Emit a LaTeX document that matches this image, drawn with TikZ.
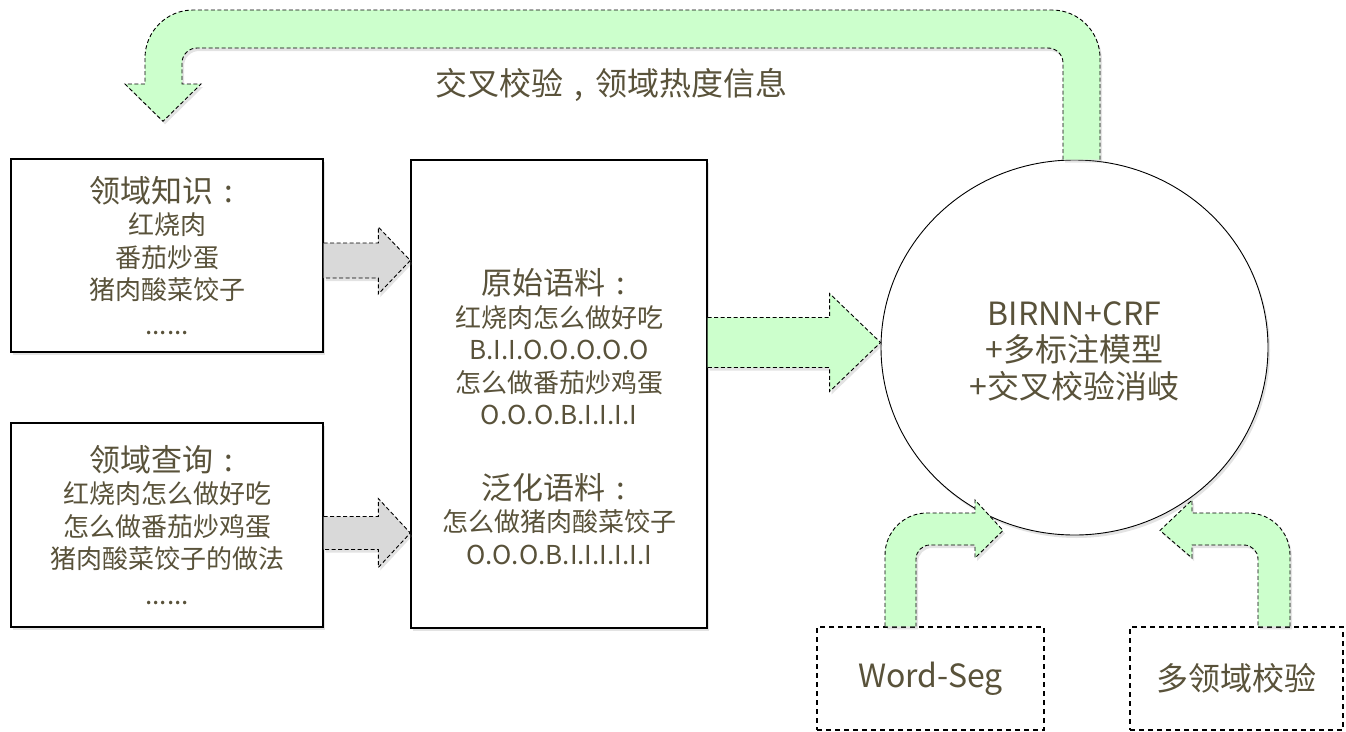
\documentclass[tikz,border=0pt]{standalone}
\usepackage{fontspec}
\setmainfont{Noto Sans CJK SC}
\usetikzlibrary{calc,shapes.geometric,shadows}
\definecolor{txtcol}{RGB}{89,82,58}
\definecolor{fatgreen}{RGB}{204,255,204}
\definecolor{fatgray}{RGB}{217,217,217}
\newcommand{\headfont}{\fontsize{31}{33}\selectfont}
\newcommand{\bigfont}{\fontsize{32}{36.5}\selectfont}
\newcommand{\wcolon}{\makebox[1em]{:}}
% straight block arrow: style, start, tip, body half, head half, head length
\newcommand{\fatarrow}[6]{%
  \draw[#1] let \p1=(#2), \p2=(#3) in
    (\x1,\y2+#4) -- (\x2-#6,\y2+#4) -- (\x2-#6,\y2+#5) -- (\x2,\y2)
    -- (\x2-#6,\y2-#5) -- (\x2-#6,\y2-#4) -- (\x1,\y2-#4);}
\tikzset{
  softshadow/.style={drop shadow={opacity=0.22,shadow xshift=2pt,shadow yshift=-3pt}},
  panel/.style={draw=black, line width=1.4pt, fill=white, softshadow},
  toolbox/.style={draw=black, line width=1.3pt, dash pattern=on 5pt off 4pt, fill=white},
  fat/.style={draw=black, line width=0.9pt, dash pattern=on 4pt off 2.5pt, fill=fatgreen, softshadow},
  fatgrey/.style={fat, fill=fatgray},
  txt/.style={text=txtcol, align=center, font=\fontsize{26}{32.5}\selectfont}
}
\begin{document}
\begin{tikzpicture}[x=1pt, y=-1pt]
  \useasboundingbox (0,0) rectangle (1346,731);
  % input boxes
  \node[panel, txt, minimum width=312pt, minimum height=193pt] (know) at (167,255.5)
    {{\headfont 领域知识\wcolon}\\红烧肉\\番茄炒蛋\\猪肉酸菜饺子\\[2pt]......};
  \node[panel, txt, minimum width=312pt, minimum height=204pt] (query) at (167,525)
    {{\headfont 领域查询\wcolon}\\红烧肉怎么做好吃\\怎么做番茄炒鸡蛋\\猪肉酸菜饺子的做法\\[3pt]......};
  % corpus
  \node[panel, minimum width=296pt, minimum height=468pt] (corpus) at (559,394) {};
  \node[txt] (rawtxt) at (559,347)
    {{\headfont 原始语料\wcolon}\\红烧肉怎么做好吃\\B.I.I.O.O.O.O.O\\怎么做番茄炒鸡蛋\\O.O.O.B.I.I.I.I};
  \node[txt] (gentxt) at (559,519)
    {{\headfont 泛化语料\wcolon}\\怎么做猪肉酸菜饺子\\O.O.O.B.I.I.I.I.I.I};
  % model
  \node[ellipse, draw=black, line width=0.9pt, fill=white, softshadow, minimum width=387pt,
    minimum height=375pt, inner sep=0pt, txt, font=\bigfont] (model) at (1074.5,347.5) {};
  \node[txt, font=\bigfont] (modeltxt) at (1074.5,351) {BIRNN+CRF\\+多标注模型\\+交叉校验消岐};
  % helpers
  \node[toolbox, txt, font=\bigfont, minimum width=227pt, minimum height=103pt] (seg) at (930.5,678.5) {Word-Seg};
  \node[toolbox, txt, font=\bigfont, minimum width=213pt, minimum height=103pt] (multi) at (1236.5,678.5) {多领域校验};
  \node[txt, font=\bigfont] (fbtext) at (611,85) {交叉校验\makebox[1em]{,}领域热度信息};
  % arrows into corpus and model
  \fatarrow{fatgrey}{know.east}{$(know.east -| corpus.west)+(0,5)$}{17.5pt}{33.5pt}{32pt}
  \fatarrow{fatgrey}{query.east}{$(query.east -| corpus.west)+(0,8)$}{16.5pt}{34.5pt}{32pt}
  \fatarrow{fat}{corpus.east}{$(model.west)+(0,-5)$}{25pt}{49pt}{51pt}
  % feedback
  \coordinate (fbtip) at ($(know.north)+(-4,-37)$);
  \draw[fat] ($(model.north)+(25.5,0)$) [rounded corners=48pt] -- (1100,10) -- (145,10)
    [sharp corners] -- (145,84) -- (125,84) -- (fbtip) -- (201,84) -- (182,84)
    [rounded corners=15pt] -- (182,48) -- (1063,48) [sharp corners] -- ($(model.north)+(-11.5,0)$);
  % helper arrows
  \coordinate (segtip) at ($(model.south)+(-71.5,-5)$);
  \draw[fat] ($(seg.north)+(-45.5,0)$) [rounded corners=42pt] -- (885,513)
    [sharp corners] -- (975,513) -- (975,500) -- (segtip) -- (975,558) -- (975,545)
    [rounded corners=14pt] -- (916,545) [sharp corners] -- ($(seg.north)+(-14.5,0)$);
  \coordinate (multip) at ($(model.south)+(85.5,-5)$);
  \draw[fat] ($(multi.north)+(53.5,0)$) [rounded corners=42pt] -- (1290,513)
    [sharp corners] -- (1192,513) -- (1192,500) -- (multip) -- (1192,558) -- (1192,545)
    [rounded corners=14pt] -- (1258,545) [sharp corners] -- ($(multi.north)+(21.5,0)$);
\end{tikzpicture}
\end{document}
